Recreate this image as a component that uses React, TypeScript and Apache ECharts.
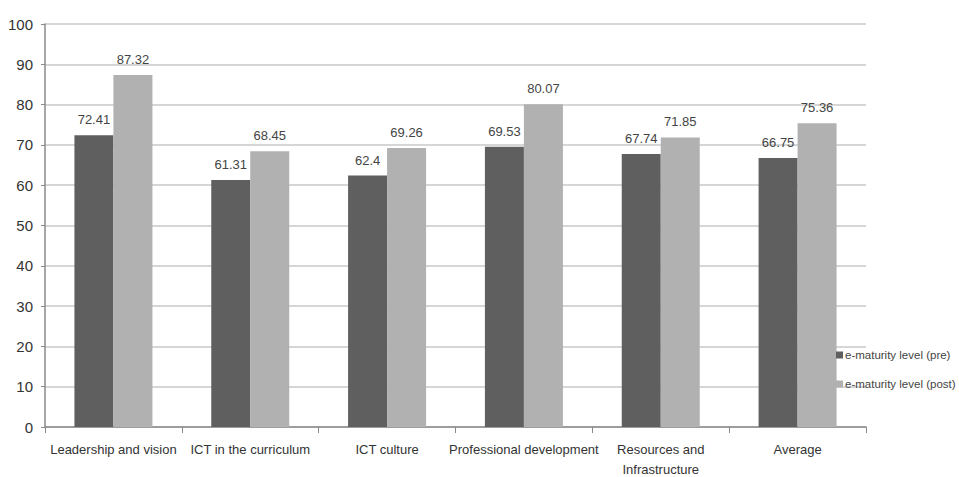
import React, { useEffect, useRef } from "react";
import * as echarts from "echarts";

const categories = [
  "Leadership and vision",
  "ICT in the curriculum",
  "ICT culture",
  "Professional development",
  "Resources and\nInfrastructure",
  "Average",
];
const preValues = [72.41, 61.31, 62.4, 69.53, 67.74, 66.75];
const postValues = [87.32, 68.45, 69.26, 80.07, 71.85, 75.36];
const seriesNames = ["e-maturity level (pre)", "e-maturity level (post)"];

const FONT = "'Liberation Sans', Arial, sans-serif";

export default function App() {
  const ref = useRef<HTMLDivElement>(null);
  useEffect(() => {
    if (!ref.current) return;
    const chart = echarts.init(ref.current, null, { renderer: "svg" });
    const labelStyle = {
      show: true,
      position: "top" as const,
      distance: 9,
      color: "#444",
      fontSize: 13,
      fontFamily: FONT,
      formatter: (p: any) => String(p.value),
    };
    chart.setOption({
      animation: false,
      backgroundColor: "#fff",
      textStyle: { fontFamily: FONT },
      grid: {
        left: 45,
        right: 93,
        top: 24,
        bottom: 50,
        containLabel: false,
        outerBoundsMode: "none",
      },
      legend: {
        orient: "vertical",
        left: 831,
        top: 344,
        itemWidth: 7,
        itemHeight: 7,
        itemGap: 17,
        icon: "rect",
        textStyle: { color: "#444", fontSize: 11.5, fontFamily: FONT, padding: [0, 0, 0, -3] },
        data: seriesNames,
      },
      xAxis: {
        type: "category",
        data: categories,
        axisLine: { show: true, lineStyle: { color: "#8a8a8a", width: 1.5 } },
        axisTick: { show: true, length: 6, lineStyle: { color: "#8a8a8a" } },
        axisLabel: {
          color: "#333",
          fontSize: 13,
          fontFamily: FONT,
          margin: 12,
          lineHeight: 20,
          interval: 0,
        },
      },
      yAxis: {
        type: "value",
        min: 0,
        max: 100,
        interval: 10,
        axisLine: { show: true, lineStyle: { color: "#8a8a8a", width: 1.5 } },
        axisTick: { show: true, length: 4, lineStyle: { color: "#8a8a8a" } },
        axisLabel: { color: "#333", fontSize: 15, fontFamily: FONT, margin: 12 },
        splitLine: { show: true, lineStyle: { color: "#c9c9c9", width: 1.5 } },
      },
      series: [
        {
          name: seriesNames[0],
          type: "bar",
          data: preValues,
          barGap: "0%",
          barCategoryGap: "43%",
          itemStyle: { color: "#5f5f5f" },
          label: labelStyle,
        },
        {
          name: seriesNames[1],
          type: "bar",
          data: postValues,
          barGap: "0%",
          barCategoryGap: "43%",
          itemStyle: { color: "#b1b1b1" },
          label: labelStyle,
        },
      ],
    });
    return () => chart.dispose();
  }, []);
  return <div ref={ref} style={{ width: 959, height: 477, position: "absolute", left: 0, top: 0 }} />;
}
